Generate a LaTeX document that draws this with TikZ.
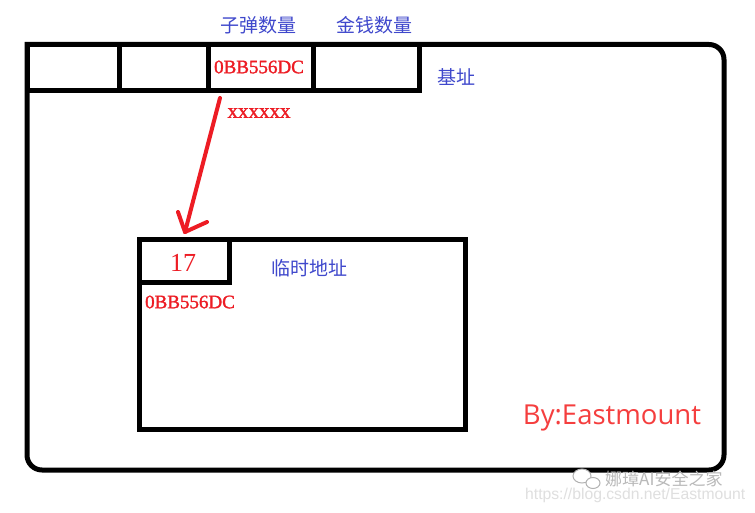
\documentclass[tikz,border=0pt]{standalone}
\usepackage{fontspec}
\setmainfont{Liberation Serif}
\newfontfamily\cjk{Noto Sans CJK SC}
\newfontfamily\sansf{Open Sans}
\newfontfamily\wmsans{Liberation Sans}
\newfontfamily\addrfont[FakeBold=1.5]{Liberation Serif}
\definecolor{pblue}{HTML}{3F48CC}
\definecolor{pred}{HTML}{ED1C24}
\definecolor{sigred}{RGB}{245,62,62}
\tikzset{
  frame/.style={line width=5pt, line join=miter},
  cell/.style={draw, line width=5pt, rectangle, inner sep=0pt, outer sep=0pt, anchor=center},
  bluelabel/.style={text=pblue, font=\cjk\fontsize{19}{19}\selectfont, inner sep=0pt, anchor=center},
  addr/.style={text=pred, font=\addrfont\fontsize{19}{19}\selectfont, inner sep=0pt, anchor=center},
  arrowline/.style={draw=pred, line width=4pt, line cap=round, line join=round}
}
\begin{document}
\begin{tikzpicture}[x=1pt,y=-1pt]
\useasboundingbox[fill=white] (0,0) rectangle (755,513);

% outer frame (top-left corner square, others rounded)
\draw[frame] (27,44.5) -- (709,44.5)
  .. controls (717.3,44.5) and (724,51.2) .. (724,59.5) -- (724,455)
  .. controls (724,463.3) and (717.3,470) .. (709,470) -- (42,470)
  .. controls (33.7,470) and (27,463.3) .. (27,455) -- cycle;

% base address row
\node[cell, minimum width=92.5pt, minimum height=46.5pt] (c1) at (73.25,67.75) {};
\node[cell, minimum width=89pt, minimum height=46.5pt] (c2) at (164,67.75) {};
\node[cell, minimum width=105pt, minimum height=46.5pt] (c3) at (261,67.75) {};
\node[cell, minimum width=106pt, minimum height=46.5pt] (c4) at (366.5,67.75) {};

\node[addr] (a1) at (259,67) {0BB556DC};
\node[bluelabel] (l1) at (258,25) {子弹数量};
\node[bluelabel] (l2) at (374,25) {金钱数量};
\node[bluelabel] (l3) at (456,77) {基址};
\node[text=pred, font=\addrfont\fontsize{21}{21}\selectfont, inner sep=0pt] (xx) at (259,113) {xxxxxx};

% temporary address box
\node[cell, minimum width=326pt, minimum height=189.5pt] (tmp) at (302.5,334.75) {};
\node[cell, minimum width=90pt, minimum height=42pt] (v) at (184.5,261) {};
\node[text=pred, font=\fontsize{26}{26}\selectfont, inner sep=0pt] (n17) at (183,263) {17};
\node[addr] (a2) at (190,302) {0BB556DC};
\node[bluelabel] (l4) at (309,268) {临时地址};

% arrow
\coordinate (as) at (220,98);
\coordinate (at) at (185,232);
\draw[arrowline] (as) -- (at);
\draw[arrowline] (at) -- ++(-7,-20);
\draw[arrowline] (at) -- ++(22,-10);

% signature
\node[text=sigred, font=\sansf\fontsize{27.5}{27.5}\selectfont, inner sep=0pt] (sig) at (612,418) {By:Eastmount};

% watermark
\draw[gray!60, line width=1pt, fill=white] (582,476) ellipse[x radius=9, y radius=7];
\draw[gray!60, line width=1pt, fill=white] (593,483) ellipse[x radius=7, y radius=5.5];
\node[text=gray!55, font=\cjk\fontsize{17}{17}\selectfont, inner sep=0pt, anchor=west] (wm1) at (605,479) {娜璋AI安全之家};
\node[text=gray!25, font=\wmsans\fontsize{15.7}{15.7}\selectfont, inner sep=0pt, anchor=west] (wm2) at (525,495) {https://blog.csdn.net/Eastmount};
\end{tikzpicture}
\end{document}
